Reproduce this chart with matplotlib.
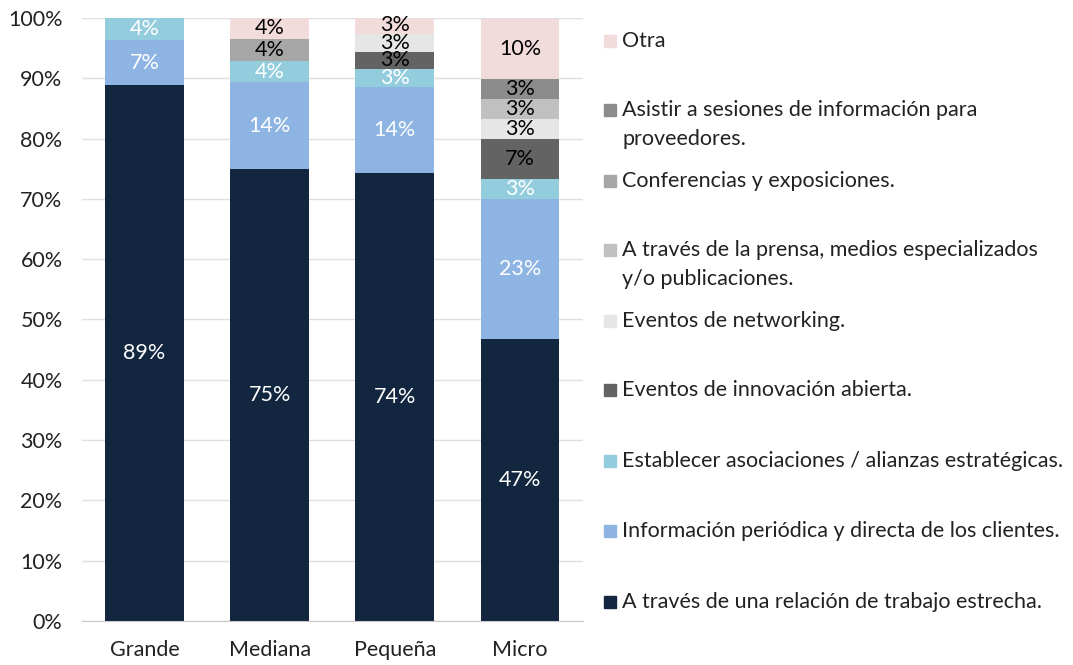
import numpy as np
import matplotlib
matplotlib.use("Agg")
import matplotlib.pyplot as plt
from matplotlib.patches import Rectangle

plt.rcParams['font.family'] = ['Lato', 'DejaVu Sans']

# Categorías (tamaño de empresa)
categorias = ["Grande", "Mediana", "Pequeña", "Micro"]

# Series en % (de abajo hacia arriba)
trabajo      = [88.9, 75.0, 74.3, 46.7]
informacion  = [7.4, 14.3, 14.3, 23.3]
establecer   = [3.7, 3.6, 2.9, 3.3]
innovacion   = [0.0, 0.0, 2.9, 6.7]
networking   = [0.0, 0.0, 2.9, 3.3]
prensa       = [0.0, 0.0, 0.0, 3.3]
conferencias = [0.0, 3.6, 0.0, 0.0]
asistir      = [0.0, 0.0, 0.0, 3.3]
otra         = [0.0, 3.6, 2.9, 10.0]

series = [trabajo, informacion, establecer, innovacion, networking,
          prensa, conferencias, asistir, otra]
etiquetas = [
    "A través de una relación de trabajo estrecha.",
    "Información periódica y directa de los clientes.",
    "Establecer asociaciones / alianzas estratégicas.",
    "Eventos de innovación abierta.",
    "Eventos de networking.",
    "A través de la prensa, medios especializados\ny/o publicaciones.",
    "Conferencias y exposiciones.",
    "Asistir a sesiones de información para\nproveedores.",
    "Otra",
]
colores = ["#132640", "#8eb4e3", "#93cddd", "#636363", "#e6e6e6",
           "#c0c0c0", "#a6a6a6", "#8c8c8c", "#f2dcdb"]
color_texto = ["white", "white", "white", "black", "black",
               "black", "black", "black", "black"]

FS = 15.5

fig = plt.figure(figsize=(10.73, 6.65), dpi=100)
ax = fig.add_axes([0.0764, 0.0662, 0.4666, 0.9068])

x = np.arange(len(categorias))
base = np.zeros(len(categorias))
for vals, col, tc in zip(series, colores, color_texto):
    vals = np.array(vals)
    ax.bar(x, vals, 0.63, bottom=base, color=col, zorder=2)
    for xi, v, b in zip(x, vals, base):
        if v > 0:
            ax.text(xi, b + v / 2, f"{v:.0f}%", ha="center", va="center",
                    color=tc, fontsize=FS, zorder=3)
    base = base + vals

ax.set_xlim(-0.5, 3.5)
ax.set_ylim(0, 100)
ax.set_yticks(np.arange(0, 101, 10))
ax.set_yticklabels([f"{v}%" for v in range(0, 101, 10)])
ax.set_xticks(x)
ax.set_xticklabels(categorias)
ax.tick_params(axis="both", length=0, labelsize=FS, colors="#222222")
ax.tick_params(axis="y", pad=14)
ax.tick_params(axis="x", pad=14)
ax.yaxis.grid(True, color="#e0e0e0", linewidth=1, zorder=0)
ax.set_axisbelow(True)
for s in ["top", "right", "left"]:
    ax.spines[s].set_visible(False)
ax.spines["bottom"].set_color("#c8c8c8")

# Leyenda manual (de arriba hacia abajo)
pos_y = [41, 110, 181, 250, 321, 390, 461, 531, 602]
orden = list(range(len(series)))[::-1]
H = 665.0
W = 1073.0
for py, i in zip(pos_y, orden):
    fig.add_artist(Rectangle((604 / W, 1 - (py + 6) / H), 12 / W, 12 / H,
                             transform=fig.transFigure, color=colores[i]))
    for j, linea in enumerate(etiquetas[i].split("\n")):
        fig.text(622 / W, 1 - (py + 6 + 29 * j) / H, linea, ha="left",
                 va="baseline", fontsize=FS, color="#222222")

fig.savefig("out.png", dpi=100)
